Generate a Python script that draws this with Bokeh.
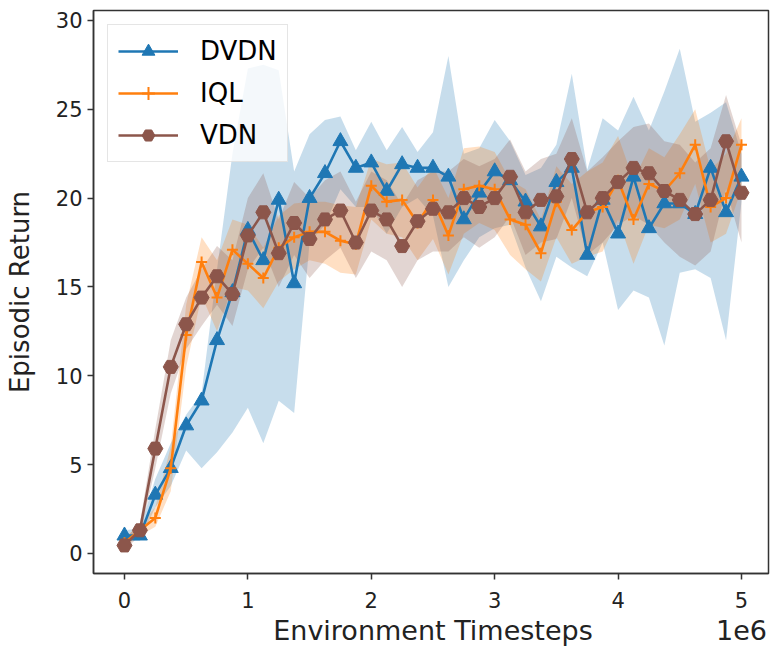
from bokeh.plotting import figure
from bokeh.models import (ColumnDataSource, Range1d, Legend, LegendItem, SingleIntervalTicker,
                          FixedTicker, LinearAxis)
from bokeh.embed import file_html
from bokeh.resources import INLINE

# x positions in units of 1e6 environment timesteps
steps = [0.0, 0.125, 0.25, 0.375, 0.5, 0.625, 0.75, 0.875, 1.0, 1.125, 1.25, 1.375, 1.5, 1.625,
         1.75, 1.875, 2.0, 2.125, 2.25, 2.375, 2.5, 2.625, 2.75, 2.875, 3.0, 3.125, 3.25, 3.375,
         3.5, 3.625, 3.75, 3.875, 4.0, 4.125, 4.25, 4.375, 4.5, 4.625, 4.75, 4.875, 5.0]

dvdn_mean = [1.0, 1.0, 3.3, 4.8, 7.2, 8.6, 12.0, 14.7, 18.2, 16.5, 19.9, 15.2, 20.0, 21.4,
             23.2, 21.7, 22.0, 20.4, 21.9, 21.7, 21.7, 21.2, 18.8, 20.3, 21.5, 21.0, 19.8, 18.4,
             20.9, 21.7, 16.8, 19.9, 18.0, 21.2, 18.3, 19.7, 19.7, 19.1, 21.7, 19.2, 21.2]
dvdn_low = [0.7, 0.7, 2.6, 3.8, 5.8, 4.8, 5.7, 6.8, 8.2, 6.2, 8.6, 7.9, 17.5, 18.5,
            20.5, 19.5, 19.5, 18.0, 19.5, 20.0, 19.0, 15.0, 16.5, 17.8, 18.3, 18.5, 16.1, 14.2,
            16.7, 16.1, 15.6, 17.5, 13.7, 14.8, 14.4, 11.7, 15.8, 16.0, 15.5, 12.0, 19.8]
dvdn_high = [1.3, 1.4, 4.2, 6.2, 7.8, 9.0, 16.0, 22.5, 27.3, 27.5, 27.2, 21.5, 23.6, 24.4,
             24.6, 22.7, 24.3, 22.7, 24.0, 22.6, 23.7, 28.0, 22.5, 22.8, 24.4, 23.2, 21.3, 21.7,
             23.0, 27.0, 21.6, 24.5, 23.8, 25.7, 23.8, 26.0, 28.4, 24.3, 24.8, 25.4, 22.5]

iql_mean = [0.6, 1.3, 2.0, 4.8, 12.3, 16.4, 14.4, 17.1, 16.3, 15.5, 17.2, 17.8, 18.1, 18.1,
            17.6, 17.4, 20.7, 19.8, 19.9, 18.6, 19.9, 17.9, 20.5, 20.7, 20.5, 18.8, 18.5, 16.9,
            19.8, 18.2, 19.2, 19.5, 21.0, 18.8, 20.8, 20.4, 21.4, 23.0, 19.5, 20.0, 23.0]
iql_low = [0.4, 1.0, 1.5, 3.5, 10.5, 14.5, 12.5, 15.0, 14.8, 13.8, 15.3, 16.0, 16.5, 16.3,
           15.8, 15.7, 18.8, 18.0, 17.8, 16.5, 17.7, 15.7, 18.0, 18.6, 18.2, 16.8, 16.0, 15.3,
           17.8, 16.3, 16.7, 17.0, 18.8, 16.3, 18.5, 18.3, 18.8, 20.8, 17.5, 18.0, 20.5]
iql_high = [0.9, 1.6, 2.6, 6.0, 14.0, 17.8, 16.5, 18.8, 18.5, 17.2, 19.0, 19.7, 19.8, 19.8,
            19.6, 19.5, 22.2, 21.9, 22.0, 20.6, 21.8, 20.0, 22.8, 22.9, 22.6, 21.0, 20.5, 18.8,
            21.8, 20.8, 21.5, 22.0, 23.5, 21.0, 22.8, 22.3, 23.6, 25.0, 21.6, 22.5, 24.5]

vdn_mean = [0.45, 1.3, 5.9, 10.5, 12.9, 14.4, 15.6, 14.6, 17.9, 19.2, 16.9, 18.6, 17.7, 18.8,
            19.3, 17.5, 19.3, 18.8, 17.3, 18.7, 19.4, 19.2, 20.0, 19.5, 20.0, 21.2, 19.2, 19.9,
            20.1, 22.2, 19.2, 20.0, 20.9, 21.7, 21.4, 20.4, 19.9, 19.1, 19.9, 23.2, 20.3]
vdn_low = [0.2, 1.0, 4.8, 9.0, 11.5, 12.8, 14.0, 12.8, 16.0, 17.2, 15.0, 16.8, 15.5, 16.5,
           17.2, 15.5, 17.0, 16.5, 15.0, 16.5, 17.0, 17.0, 17.8, 17.2, 17.8, 19.0, 16.8, 17.5,
           17.7, 20.0, 16.8, 17.5, 18.5, 19.0, 18.5, 17.5, 16.7, 16.2, 17.0, 20.5, 17.5]
vdn_high = [0.8, 1.7, 7.0, 12.0, 14.4, 16.0, 17.3, 16.5, 20.0, 21.4, 18.8, 20.9, 20.0, 21.0,
            21.5, 19.8, 21.5, 21.0, 19.6, 21.0, 21.5, 21.5, 22.2, 21.8, 22.2, 23.3, 21.5, 22.2,
            22.5, 24.5, 21.5, 22.3, 23.2, 24.0, 24.2, 23.2, 23.0, 22.0, 22.8, 25.8, 23.0]

names = ["DVDN", "IQL", "VDN"]
colors = ["#1f77b4", "#ff7f0e", "#8c564b"]

x_label = "Environment Timesteps"
x_scale_text = "1e6"
y_label = "Episodic Return"

FONT = "DejaVu Sans"

p = figure(width=770, height=652, output_backend="svg", toolbar_location=None,
           x_range=Range1d(-0.251, 5.219), y_range=Range1d(-1.13, 30.56),
           min_border_left=93, min_border_right=2, min_border_top=10, min_border_bottom=79)
p.frame_width = 675
p.frame_height = 563
p.xgrid.visible = False
p.ygrid.visible = False
p.outline_line_color = "#333333"
p.outline_line_width = 1.5

series = [
    (dvdn_mean, dvdn_low, dvdn_high),
    (iql_mean, iql_low, iql_high),
    (vdn_mean, vdn_low, vdn_high),
]

for (m, lo, hi), c in zip(series, colors):
    p.varea(x=steps, y1=lo, y2=hi, fill_color=c, fill_alpha=0.25)

items = []
for (m, lo, hi), c, n in zip(series, colors, names):
    src = ColumnDataSource(dict(x=steps, y=m))
    ln = p.line("x", "y", source=src, line_color=c, line_width=2.6)
    if n == "DVDN":
        mk = p.scatter("x", "y", source=src, marker="triangle", size=15,
                       fill_color=c, line_color=c)
    elif n == "IQL":
        mk = p.scatter("x", "y", source=src, marker="cross", size=11,
                       line_color=c, line_width=2)
    else:
        mk = p.scatter("x", "y", source=src, marker="hex", size=15,
                       fill_color=c, line_color=c)
    items.append(LegendItem(label=n, renderers=[ln, mk]))

legend = Legend(items=items, location="top_left")
legend.label_text_font = FONT
legend.label_text_font_size = "26px"
legend.label_text_color = "#000000"
legend.glyph_width = 60
legend.glyph_height = 32
legend.label_standoff = 22
legend.spacing = 10
legend.padding = 10
legend.margin = 14
legend.border_line_color = "#cccccc"
legend.border_line_width = 1.2
legend.background_fill_alpha = 0.8
p.add_layout(legend)

for ax in (p.xaxis[0], p.yaxis[0]):
    ax.axis_line_color = "#333333"
    ax.axis_line_width = 1.5
    ax.major_tick_line_color = "#333333"
    ax.major_tick_line_width = 1.5
    ax.major_tick_out = 6
    ax.major_tick_in = 0
    ax.minor_tick_line_color = None
    ax.major_label_text_font = FONT
    ax.major_label_text_font_size = "21px"
    ax.major_label_text_color = "#222222"
    ax.axis_label_text_font = FONT
    ax.axis_label_text_font_size = "26px"
    ax.axis_label_text_font_style = "normal"
    ax.axis_label_text_color = "#222222"

p.xaxis.ticker = SingleIntervalTicker(interval=1)
p.yaxis.ticker = SingleIntervalTicker(interval=5)
p.yaxis.axis_label = y_label
p.xaxis.major_label_standoff = 12
p.yaxis.major_label_standoff = 5
p.yaxis.axis_label_standoff = 18

# second, line-less axis below carrying the x label and the "1e6" offset text on one row
lab_axis = LinearAxis(ticker=FixedTicker(ticks=[2.5, 5.0]),
                      major_label_overrides={2.5: x_label, 5.0: x_scale_text})
lab_axis.axis_line_color = None
lab_axis.major_tick_line_color = None
lab_axis.minor_tick_line_color = None
lab_axis.major_tick_out = 0
lab_axis.major_label_standoff = 4
lab_axis.major_label_text_font = FONT
lab_axis.major_label_text_font_size = "27px"
lab_axis.major_label_text_color = "#222222"
p.add_layout(lab_axis, "below")

open("out.html", "w").write(file_html(p, INLINE))
